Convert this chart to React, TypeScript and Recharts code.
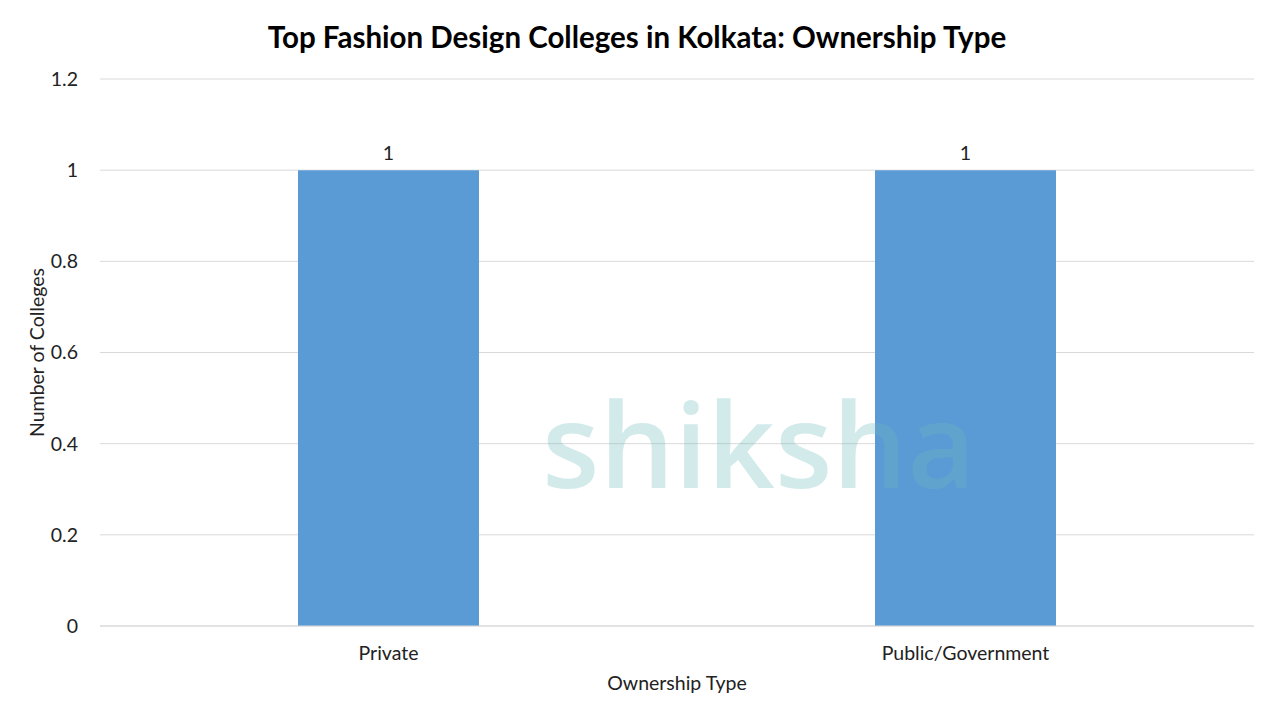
import { BarChart, Bar, XAxis, YAxis, CartesianGrid, LabelList } from 'recharts'

const categories = ['Private', 'Public/Government']
const colleges = [1, 1]
const yTicks = [0, 0.2, 0.4, 0.6, 0.8, 1, 1.2]

const data = categories.map((name, i) => ({ name, value: colleges[i] }))

const font = 'Lato, "Open Sans", sans-serif'

export default function App() {
  return (
    <div style={{ position: 'absolute', left: 0, top: 0, width: 1280, height: 720, background: '#fff', fontFamily: font }}>
      <div
        style={{
          position: 'absolute',
          top: 19,
          left: 0,
          width: 1274,
          textAlign: 'center',
          fontSize: 29.5,
          fontWeight: 700,
          color: '#000',
        }}
      >
        Top Fashion Design Colleges in Kolkata: Ownership Type
      </div>
      <BarChart
        width={1280}
        height={720}
        data={data}
        margin={{ top: 79, right: 26, left: 40, bottom: 28 }}
      >
        <CartesianGrid vertical={false} stroke="#d9d9d9" />
        <XAxis
          dataKey="name"
          height={66}
          axisLine={{ stroke: '#d9d9d9' }}
          tickLine={false}
          tick={{ fontSize: 19.5, fill: '#222', fontFamily: font }}
          tickMargin={14}
          label={{ value: 'Ownership Type', position: 'insideBottom', offset: 2, fontSize: 19.5, fill: '#222', fontFamily: font }}
        />
        <YAxis
          width={60}
          domain={[0, 1.2]}
          ticks={yTicks}
          axisLine={false}
          tickLine={false}
          tick={{ fontSize: 19.5, fill: '#222', fontFamily: font }}
          tickMargin={16}
          label={{ value: 'Number of Colleges', angle: -90, position: 'insideLeft', offset: -3, fontSize: 19.5, fill: '#222', fontFamily: font, style: { textAnchor: 'middle' } }}
        />
        <Bar dataKey="value" fill="#5b9bd5" barSize={181} isAnimationActive={false}>
          <LabelList dataKey="value" position="top" offset={10} style={{ fontSize: 19.5, fill: '#222', fontFamily: font }} />
        </Bar>
      </BarChart>
      <div
        style={{
          position: 'absolute',
          left: 542,
          top: 362,
          fontSize: 118,
          fontWeight: 600,
          fontFamily: '"Open Sans", sans-serif',
          color: 'rgba(110, 185, 190, 0.3)',
          pointerEvents: 'none',
        }}
      >
        shiksha
      </div>
    </div>
  )
}
